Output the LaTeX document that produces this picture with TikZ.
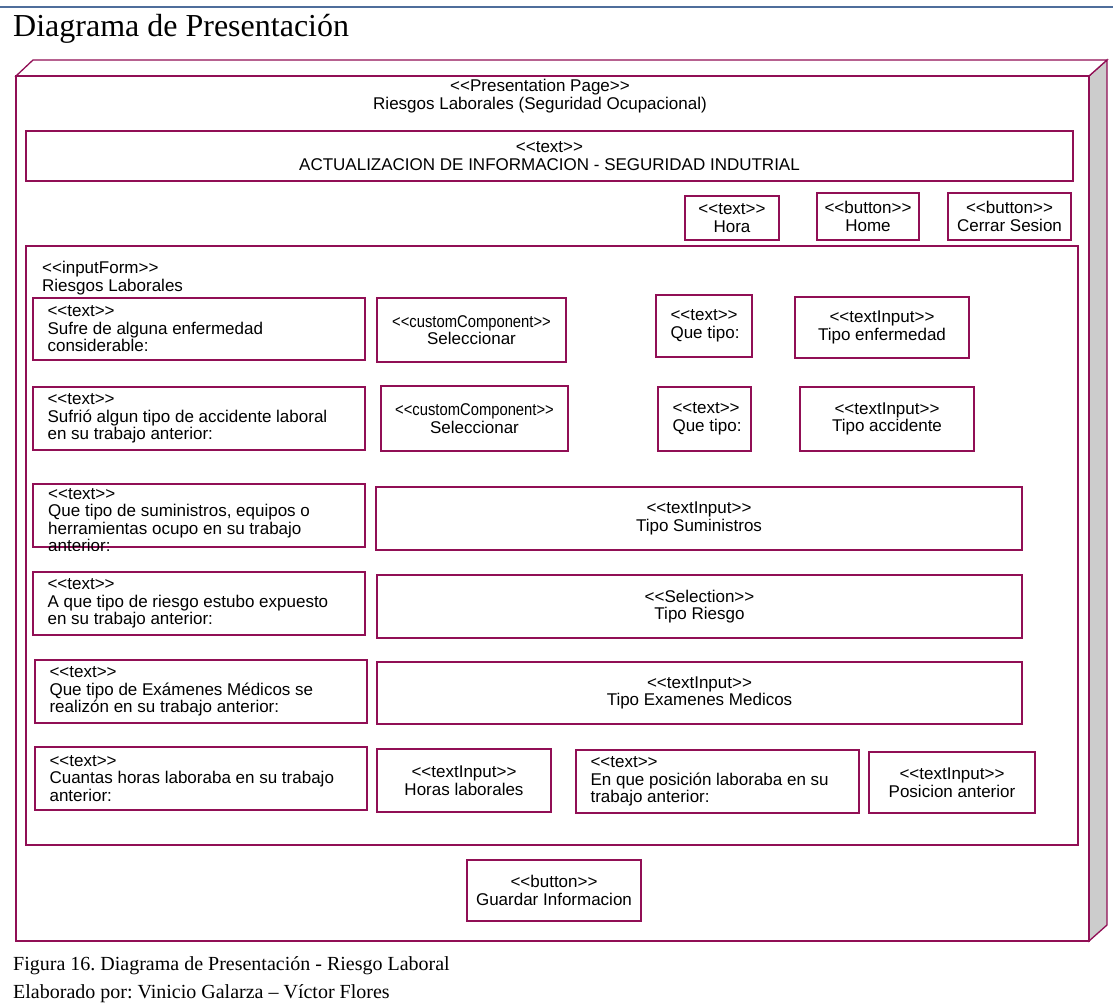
\documentclass[tikz,border=0pt]{standalone}
\usepackage{fontspec}
\setmainfont{Liberation Serif}
\newfontfamily\uifont{Liberation Sans}
\usetikzlibrary{calc}
\frenchspacing

\definecolor{umlline}{RGB}{145,15,85}
\definecolor{sideface}{RGB}{204,204,204}
\definecolor{ruleblue}{RGB}{79,110,155}

% stereotype marker, kept apart so << and >> are not joined into guillemets
\newcommand\stereo[1]{<\kern0pt<#1>\kern0pt>}
% the long custom-component stereotype is set a little condensed
\newcommand\stereonarrow[1]{\scalebox{0.87}[1]{\stereo{#1}}}

\tikzset{
  uitext/.style={font={\uifont\fontsize{17}{17.5}\selectfont}},
  elem/.style={draw=umlline, line width=1.3pt, fill=white, uitext, inner sep=0pt},
  plain/.style={uitext, inner sep=0pt},
  captiontext/.style={anchor=base west, inner sep=0pt, font=\fontsize{20}{28}\selectfont}
}

% element box given by its left, top, right and bottom edges, label centred
\newcommand\uibox[6]{%
  \pgfmathsetmacro\uiW{#4-#2}\pgfmathsetmacro\uiH{#5-#3}%
  \node[elem, align=center, minimum width=\uiW pt, minimum height=\uiH pt]
    (#1) at ({(#2+#4)/2},{(#3+#5)/2}) {#6};}

% element box with its label set flush left, 15pt in from the left edge
\newcommand\uileft[6]{%
  \pgfmathsetmacro\uiW{#4-#2}\pgfmathsetmacro\uiH{#5-#3}%
  \node[elem, minimum width=\uiW pt, minimum height=\uiH pt]
    (#1) at ({(#2+#4)/2},{(#3+#5)/2}) {};
  \node[plain, anchor=west, align=left] (#1-label) at ([xshift=15pt]#1.west) {#6};}

\begin{document}
\begin{tikzpicture}[x=1pt,y=-1pt]
\useasboundingbox (0,0) rectangle (1113,1008);

% header rule and heading
\draw[ruleblue, line width=2pt] (0,7) -- (1113,7);
\node[anchor=base west, inner sep=0pt, font=\fontsize{32}{36}\selectfont] (heading) at (13,37) {Diagrama de Presentación};

% presentation page drawn as a 3D node
\coordinate (pnw) at (16,76);
\coordinate (pne) at (1089,76);
\coordinate (pse) at (1089,941);
\draw[umlline, line width=1.3pt, fill=sideface] (pne) -- (1107,60) -- (1107,925) -- (pse) -- cycle;
\draw[umlline, line width=1.3pt, fill=white] (pnw) -- (33,60) -- (1107,60) -- (pne) -- cycle;
\draw[umlline, line width=1.3pt, fill=white] (pnw) rectangle (pse);
\node[plain, align=center] (pagelabel) at (540,96) {\stereo{Presentation Page}\\Riesgos Laborales (Seguridad Ocupacional)};

% page heading and top bar
\uibox{hdr}{26}{131}{1073}{181}{\stereo{text}\\ACTUALIZACION DE INFORMACION - SEGURIDAD INDUTRIAL}
\uibox{hora}{685}{196}{779}{240}{\stereo{text}\\Hora}
\uibox{home}{817}{193}{919}{240}{\stereo{button}\\Home}
\uibox{cerrar}{948}{193}{1071}{240}{\stereo{button}\\Cerrar Sesion}

% input form
\node[draw=umlline, line width=1.3pt, fill=white, minimum width=1052pt, minimum height=599pt, inner sep=0pt] (form) at (552,545.5) {};
\node[plain, anchor=north west, align=left] (formlabel) at (42,261) {\stereo{inputForm}\\Riesgos Laborales};

% row 1
\uileft{q1}{33}{298}{365}{360}{\stereo{text}\\Sufre de alguna enfermedad\\considerable:}
\uibox{s1}{377}{298}{566}{362}{\stereonarrow{customComponent}\\Seleccionar}
\uileft{qt1}{656}{295}{752}{357}{\stereo{text}\\Que tipo:}
\uibox{ti1}{795}{297}{969}{358}{\stereo{textInput}\\Tipo enfermedad}

% row 2
\uileft{q2}{33}{387}{365}{450}{\stereo{text}\\Sufrió algun tipo de accidente laboral\\en su trabajo anterior:}
\uibox{s2}{381}{386}{568}{451}{\stereonarrow{customComponent}\\Seleccionar}
\uileft{qt2}{658}{387}{751}{451}{\stereo{text}\\Que tipo:}
\uibox{ti2}{800}{387}{974}{451}{\stereo{textInput}\\Tipo accidente}

% row 3 (the label runs past the bottom of its box)
\uibox{q3}{33}{484}{365}{547}{}
\begin{scope}
  \clip (33,484) rectangle (365,550);
  \node[plain, anchor=north west, align=left] (q3text) at (48,488)
    {\stereo{text}\\Que tipo de suministros, equipos o\\herramientas ocupo en su trabajo\\anterior:};
\end{scope}
\uibox{ti3}{376}{487}{1022}{550}{\stereo{textInput}\\Tipo Suministros}

% row 4
\uileft{q4}{33}{572}{365}{635}{\stereo{text}\\A que tipo de riesgo estubo expuesto\\en su trabajo anterior:}
\uibox{sel}{377}{575}{1022}{638}{\stereo{Selection}\\Tipo Riesgo}

% row 5
\uileft{q5}{35}{660}{367}{723}{\stereo{text}\\Que tipo de Exámenes Médicos se\\realizón en su trabajo anterior:}
\uibox{ti5}{377}{662}{1022}{724}{\stereo{textInput}\\Tipo Examenes Medicos}

% row 6
\uileft{q6}{35}{747}{367}{810}{\stereo{text}\\Cuantas horas laboraba en su trabajo\\anterior:}
\uibox{ti6}{377}{749}{551}{812}{\stereo{textInput}\\Horas laborales}
\uileft{q7}{576}{750}{859}{813}{\stereo{text}\\En que posición laboraba en su\\trabajo anterior:}
\uibox{ti7}{869}{752}{1035}{813}{\stereo{textInput}\\Posicion anterior}

% save button
\uibox{save}{467}{860}{641}{921}{\stereo{button}\\Guardar Informacion}

% caption
\node[captiontext] (caption) at (13,970) {Figura 16. Diagrama de Presentación - Riesgo Laboral};
\node[captiontext] (credits) at (13,998) {Elaborado por: Vinicio Galarza – Víctor Flores};
\end{tikzpicture}
\end{document}
